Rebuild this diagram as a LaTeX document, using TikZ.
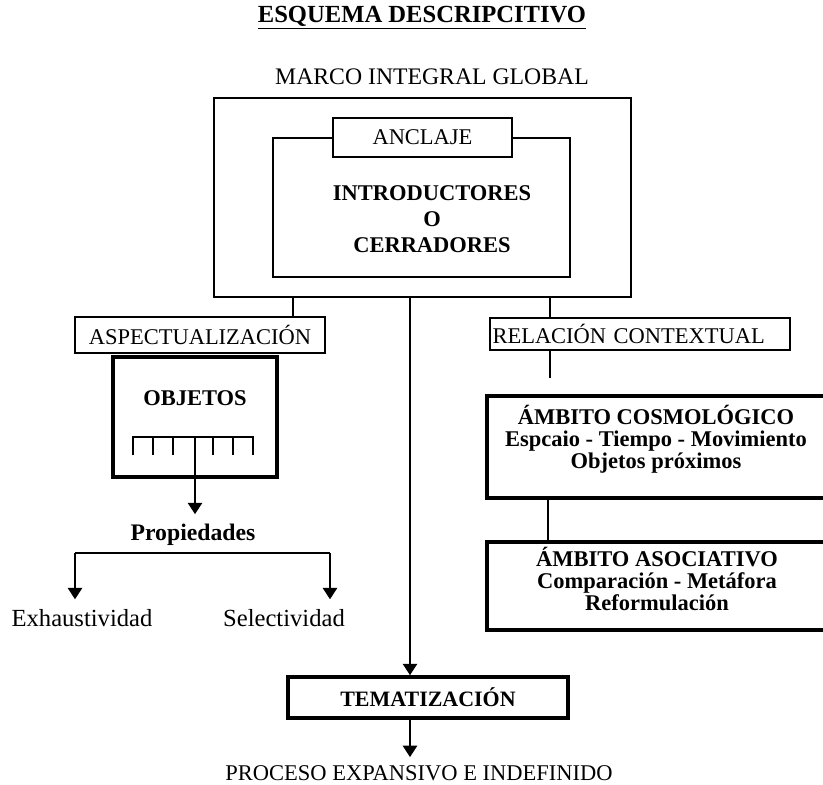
\documentclass[tikz,border=0pt]{standalone}
\usepackage{fontspec}
\setmainfont{Liberation Serif}
\usetikzlibrary{arrows.meta,positioning,calc}

\begin{document}
\begin{tikzpicture}[
    x=0.02cm, y=-0.02cm,
    >={Triangle[width=8pt,length=6.5pt]},
    every node/.style={font=\fontsize{12.8}{15}\selectfont},
    frame/.style={rectangle, draw, line width=1.4pt, inner sep=0pt},
    heavyframe/.style={rectangle, draw, line width=2.8pt, inner sep=0pt},
    plain/.style={inner sep=0pt, align=center},
    boldtxt/.style={inner sep=0pt, align=center, font=\fontsize{12.8}{12.5}\selectfont\bfseries},
    link/.style={line width=1.4pt}
]
    \useasboundingbox (0,0) rectangle (823,785);

    % top titles
    \node (title) [plain, font=\fontsize{14}{16}\selectfont\bfseries] at (422,18) {\underline{ESQUEMA DESCRIPCITIVO}};
    \node (marco) [plain, font=\fontsize{13.5}{16}\selectfont] at (432,77) {MARCO INTEGRAL GLOBAL};

    % frame with anchoring
    \node (marcobox) [frame, minimum width=8.34cm, minimum height=3.98cm] at (422.5,197.5) {};
    \node (introbox) [frame, minimum width=5.94cm, minimum height=2.78cm] at (421.5,207.5) {};
    \node (anclaje) [frame, fill=white, minimum width=3.58cm, minimum height=0.78cm] at (422.5,137.5) {ANCLAJE};
    \node (intro) [boldtxt, font=\fontsize{12.8}{14.8}\selectfont\bfseries] at (432,219) {INTRODUCTORES\\O\\CERRADORES};

    % left branch
    \node (aspec) [frame, minimum width=5cm, minimum height=0.72cm] at (200,335) {ASPECTUALIZACIÓN};
    \node (objbox) [heavyframe, minimum width=3.28cm, minimum height=2.4cm] at (195,417) {};
    \node (objetos) [boldtxt] at (195,398) {OBJETOS};
    \draw[line width=1.4pt] (133,455) -- (133,437) -- (253,437) -- (253,455);
    \foreach \tx in {153,173,213,233}
        \draw[line width=1.4pt] (\tx,437) -- (\tx,455);
    \coordinate (comb) at (195,437);
    \node (prop) [boldtxt, font=\fontsize{13.5}{15}\selectfont\bfseries, inner ysep=5.5pt] at (193,535) {Propiedades};
    \coordinate (brl) at (75,553);
    \coordinate (brr) at (330,553);
    \node (exh) [plain, font=\fontsize{14}{16}\selectfont, inner ysep=5.5pt] at (82,618) {Exhaustividad};
    \node (sel) [plain, font=\fontsize{14}{16}\selectfont, inner ysep=5.5pt] at (284,618) {Selectividad};

    % right branch
    \node (relacion) [frame, minimum width=6cm, minimum height=0.64cm, inner xsep=1.5pt, text width=5.9cm, align=left] at (640,334) {RELACIÓN CONTEXTUAL};
    \coordinate (relend) at (550,378);
    \node (cosmo) [heavyframe, minimum width=6.86cm, minimum height=2.04cm] at (658.5,447) {};
    \node (cosmotxt) [boldtxt] at (656,439) {ÁMBITO COSMOLÓGICO\\Espcaio - Tiempo - Movimiento\\Objetos próximos};
    \node (asoc) [heavyframe, minimum width=6.86cm, minimum height=1.76cm] at (658.5,586) {};
    \node (asoctxt) [boldtxt] at (657,579) {ÁMBITO ASOCIATIVO\\Comparación - Metáfora\\Reformulación};

    % bottom
    \node (tema) [frame, line width=2pt, minimum width=5.6cm, minimum height=0.82cm, font=\fontsize{12.5}{15}\selectfont\bfseries] at (428,697.5) {TEMATIZACIÓN};
    \node (proceso) [plain, font=\fontsize{12.8}{15}\selectfont, inner ysep=4.5pt] at (419,773) {PROCESO EXPANSIVO E INDEFINIDO};

    % connectors
    \draw[link] (293,0 |- marcobox.south) -- (293,0 |- aspec.north);
    \draw[link] (550,0 |- marcobox.south) -- (550,0 |- relacion.north);
    \draw[link,->] (410,0 |- marcobox.south) -- (410,0 |- tema.north);
    \draw[link,->] (comb) -- (comb |- prop.north);
    \draw[link] (brl) -- (brr);
    \draw[link,->] (brl) -- (brl |- exh.north);
    \draw[link,->] (brr) -- (brr |- sel.north);
    \draw[link] (550,0 |- relacion.south) -- (relend);
    \draw[link] (548,0 |- cosmo.south) -- (548,0 |- asoc.north);
    \draw[link,->] (410,0 |- tema.south) -- (410,0 |- proceso.north);

\end{tikzpicture}
\end{document}
